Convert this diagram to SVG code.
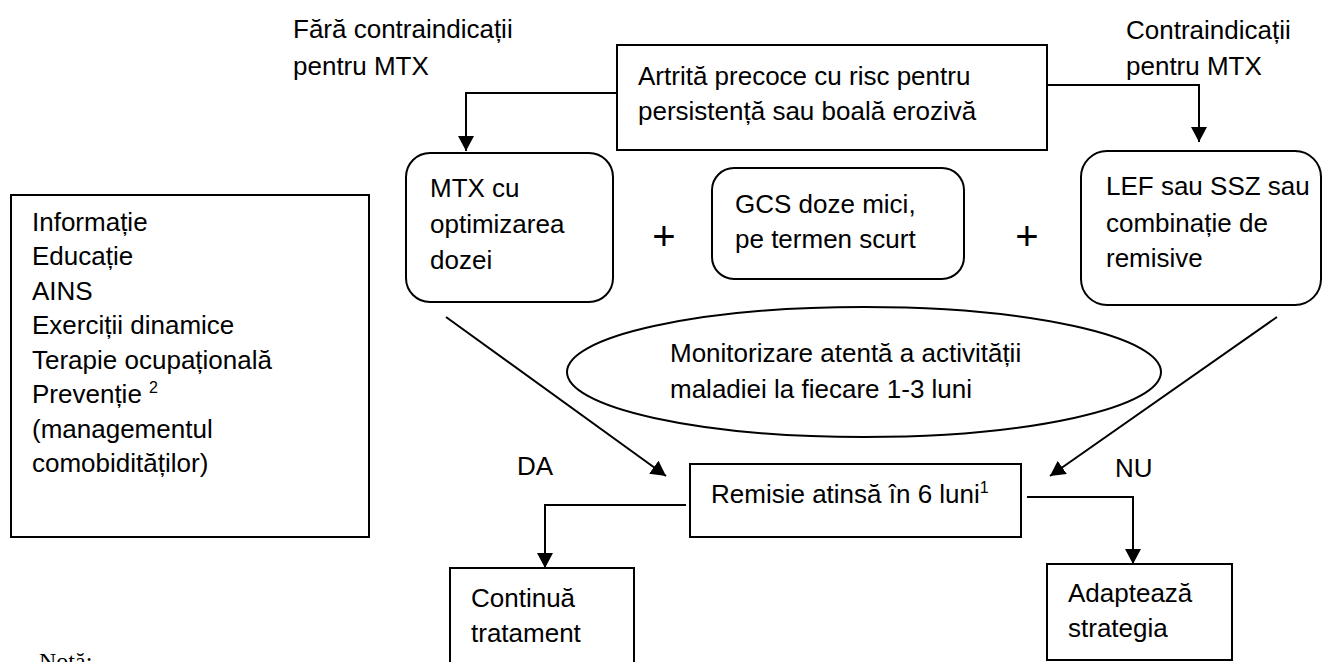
<svg xmlns="http://www.w3.org/2000/svg" width="1324" height="662" viewBox="0 0 1324 662">
<style>
text{font-family:"Liberation Sans",Arial,sans-serif;font-size:26px;fill:#000}
.box{fill:#fff;stroke:#000;stroke-width:2}
.ln{fill:none;stroke:#000;stroke-width:2}
.sup{font-size:16px}
.plus{font-size:40px;text-anchor:middle}
.note{font-family:"Liberation Serif","Times New Roman",serif;font-size:24px}
</style>
<defs>
<marker id="ah" markerUnits="userSpaceOnUse" viewBox="0 0 15 16" refX="15" refY="8" markerWidth="15" markerHeight="16" orient="auto">
<path d="M0,0 L15,8 L0,16 z" fill="#000"/>
</marker>
</defs>
<rect width="1324" height="662" fill="#fff"/>
<g id="connectors">
<path class="ln" d="M617,93 H466 V151" marker-end="url(#ah)"/>
<path class="ln" d="M1047,85 H1199 V142" marker-end="url(#ah)"/>
<path class="ln" d="M446,317 L666,476" marker-end="url(#ah)"/>
<path class="ln" d="M1277,317 L1050,476" marker-end="url(#ah)"/>
<path class="ln" d="M686,505 H545 V568" marker-end="url(#ah)"/>
<path class="ln" d="M1027,497 H1133 V564" marker-end="url(#ah)"/>
</g>
<g id="label-fara">
<text x="293" y="38">Fără contraindicații</text>
<text x="293" y="75">pentru MTX</text>
</g>
<g id="label-contra">
<text x="1126" y="39">Contraindicații</text>
<text x="1126" y="75">pentru MTX</text>
</g>
<g id="node-artrita">
<rect class="box" x="617" y="45" width="430" height="105"/>
<text x="638" y="85">Artrită precoce cu risc pentru</text>
<text x="638" y="120">persistență sau boală erozivă</text>
</g>
<g id="node-mtx">
<rect class="box" x="406" y="153" width="207" height="149" rx="24"/>
<text x="430" y="197">MTX cu</text>
<text x="430" y="233">optimizarea</text>
<text x="430" y="269">dozei</text>
</g>
<g id="plus1"><text class="plus" x="664" y="250">+</text></g>
<g id="node-gcs">
<rect class="box" x="712" y="168" width="252" height="111" rx="22"/>
<text x="735" y="213">GCS doze mici,</text>
<text x="735" y="248">pe termen scurt</text>
</g>
<g id="plus2"><text class="plus" x="1027" y="250">+</text></g>
<g id="node-lef">
<rect class="box" x="1081" y="151" width="240" height="154" rx="26"/>
<text x="1106" y="195">LEF sau SSZ sau</text>
<text x="1106" y="232">combinație de</text>
<text x="1106" y="267">remisive</text>
</g>
<g id="node-info">
<rect class="box" x="11" y="195" width="358" height="342"/>
<text x="32" y="231">Informație</text>
<text x="32" y="265">Educație</text>
<text x="32" y="300">AINS</text>
<text x="32" y="334">Exerciții dinamice</text>
<text x="32" y="369">Terapie ocupațională</text>
<text x="32" y="403">Prevenție <tspan class="sup" dy="-10">2</tspan></text>
<text x="32" y="438">(managementul</text>
<text x="32" y="472">comobidităților)</text>
</g>
<g id="node-monitor">
<ellipse class="box" cx="864" cy="372" rx="297" ry="65"/>
<text x="670" y="362">Monitorizare atentă a activității</text>
<text x="670" y="398">maladiei la fiecare 1-3 luni</text>
</g>
<g id="label-da"><text x="517" y="475">DA</text></g>
<g id="label-nu"><text x="1115" y="477">NU</text></g>
<g id="node-remisie">
<rect class="box" x="690" y="464" width="331" height="73"/>
<text x="711" y="503">Remisie atinsă în 6 luni<tspan class="sup" dy="-10">1</tspan></text>
</g>
<g id="node-continua">
<rect class="box" x="450" y="568" width="184" height="100"/>
<text x="471" y="607">Continuă</text>
<text x="471" y="642">tratament</text>
</g>
<g id="node-adapteaza">
<rect class="box" x="1047" y="564" width="185" height="96"/>
<text x="1068" y="602">Adaptează</text>
<text x="1068" y="637">strategia</text>
</g>
<g id="note"><text class="note" x="39" y="669">Notă:</text></g>
</svg>
